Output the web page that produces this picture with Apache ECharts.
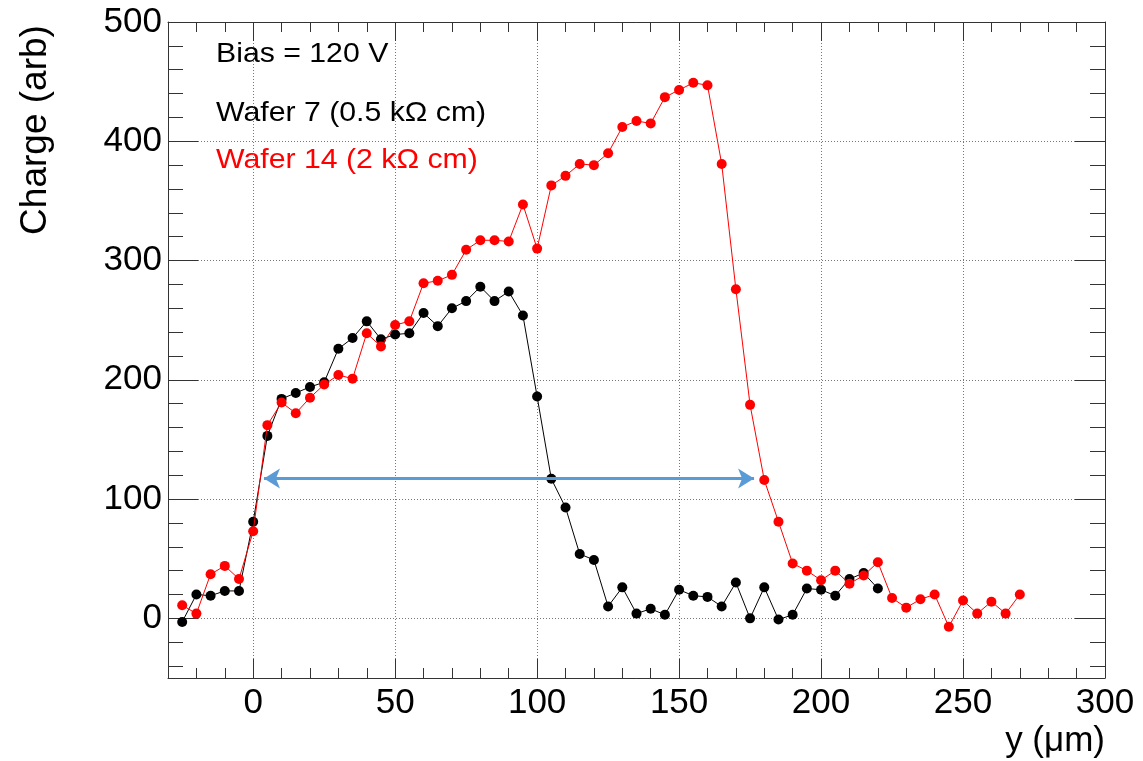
<!DOCTYPE html>
<html>
<head>
<meta charset="utf-8">
<script src="https://cdn.jsdelivr.net/npm/echarts@6/dist/echarts.min.js"></script>
<style>
html,body{margin:0;padding:0;background:#fff;}
#chart{width:1143px;height:761px;}
</style>
</head>
<body>
<div id="chart"></div>
<script>
// ---- data ----
const xBlack = [-25,-20,-15,-10,-5,0,5,10,15,20,25,30,35,40,45,50,55,60,65,70,75,80,85,90,95,100,105,110,115,120,125,130,135,140,145,150,155,160,165,170,175,180,185,190,195,200,205,210,215,220];
const yBlack = [-3,20,19,23,23,81,153,184,189,194,198,226,235,249,234,238,239,256,245,260,266,278,266,274,254,186,117,93,54,49,10,26,4,8,3,24,19,18,10,30,0,26,-1,3,25,24,19,33,38,25];
const xRed = [-25,-20,-15,-10,-5,0,5,10,15,20,25,30,35,40,45,50,55,60,65,70,75,80,85,90,95,100,105,110,115,120,125,130,135,140,145,150,155,160,165,170,175,180,185,190,195,200,205,210,215,220,225,230,235,240,245,250,255,260,265,270];
const yRed = [11,4,37,44,33,73,162,181,172,185,196,204,201,239,228,246,249,281,283,288,309,317,317,316,347,310,363,371,381,380,390,412,417,415,437,443,449,447,381,276,179,116,81,46,40,32,40,29,36,47,17,9,16,20,-7,15,4,14,4,20];
const arrowEnds = [[3.8, 117.3], [176.4, 117.3]];
const xRange = [-30, 300];
const yRange = [-50, 500];
const xStep = 50;
const yStep = 100;
const labels = ['Bias = 120 V', 'Wafer 7 (0.5 k\u03A9 cm)', 'Wafer 14 (2 k\u03A9 cm)'];
const xTitle = 'y (\u03BCm)';
const yTitle = 'Charge (arb)';

const pair = (xs, ys) => xs.map((x, i) => [x, ys[i]]);
const FONT = '"Liberation Sans", Arial, Helvetica, sans-serif';
const frameColor = '#333';
const gridLine = {show: true, lineStyle: {color: '#777', width: 1, type: [1, 2]}};

function xAx(pos, main) {
  return {
    type: 'value', position: pos, min: xRange[0], max: xRange[1],
    minInterval: xStep, maxInterval: xStep, splitNumber: 6,
    axisLine: {show: true, onZero: false, lineStyle: {color: frameColor, width: 1}},
    axisTick: {show: true, inside: true, length: 19, lineStyle: {color: frameColor}},
    minorTick: {show: true, splitNumber: 5, length: 10, lineStyle: {color: frameColor}},
    splitLine: main ? gridLine : {show: false},
    axisLabel: main ? {show: true, fontSize: 35, fontFamily: FONT, color: '#000', margin: 8,
      formatter: v => (v % xStep === 0 ? String(v) : '')} : {show: false}
  };
}
function yAx(pos, main) {
  return {
    type: 'value', position: pos, min: yRange[0], max: yRange[1],
    minInterval: yStep, maxInterval: yStep, splitNumber: 5,
    axisLine: {show: true, onZero: false, lineStyle: {color: frameColor, width: 1}},
    axisTick: {show: true, inside: true, length: 30, lineStyle: {color: frameColor}},
    minorTick: {show: true, splitNumber: 5, length: 15, lineStyle: {color: frameColor}},
    splitLine: main ? gridLine : {show: false},
    axisLabel: main ? {show: true, fontSize: 35, fontFamily: FONT, color: '#000', margin: 6,
      formatter: v => (v % yStep === 0 ? String(v) : '')} : {show: false}
  };
}

const chart = echarts.init(document.getElementById('chart'), null, {renderer: 'canvas'});
chart.setOption({
  animation: false,
  backgroundColor: '#fff',
  grid: {left: 168, right: 38, top: 22, bottom: 83, containLabel: false},
  xAxis: [xAx('bottom', true), xAx('top', false)],
  yAxis: [yAx('left', true), yAx('right', false)],
  series: [
    {
      type: 'line', xAxisIndex: 0, yAxisIndex: 0,
      data: pair(xBlack, yBlack),
      symbol: 'circle', symbolSize: 10,
      itemStyle: {color: '#000'},
      lineStyle: {color: '#000', width: 1},
      z: 3
    },
    {
      type: 'line', xAxisIndex: 0, yAxisIndex: 0,
      data: pair(xRed, yRed),
      symbol: 'circle', symbolSize: 10,
      itemStyle: {color: '#ff0000'},
      lineStyle: {color: '#ff0000', width: 1},
      z: 4,
      markLine: {
        silent: true, symbol: ['arrow', 'arrow'], symbolSize: [15, 16],
        label: {show: false},
        lineStyle: {color: '#5B9BD5', width: 3, type: 'solid'},
        emphasis: {disabled: true},
        data: [[{coord: arrowEnds[0]}, {coord: arrowEnds[1]}]]
      }
    }
  ],
  graphic: [
    {type: 'text', x: 216, y: 54, scaleX: 1.08, style: {text: labels[0], fontSize: 28, fontFamily: FONT, fill: '#000', verticalAlign: 'middle', align: 'left'}},
    {type: 'text', x: 216, y: 113, scaleX: 1.08, style: {text: labels[1], fontSize: 28, fontFamily: FONT, fill: '#000', verticalAlign: 'middle', align: 'left'}},
    {type: 'text', x: 216, y: 160, scaleX: 1.08, style: {text: labels[2], fontSize: 28, fontFamily: FONT, fill: '#ff0000', verticalAlign: 'middle', align: 'left'}},
    {type: 'text', x: 1105, y: 741, style: {text: xTitle, fontSize: 35, fontFamily: FONT, fill: '#000', verticalAlign: 'middle', align: 'right'}},
    {type: 'text', x: 36, y: 130, rotation: Math.PI / 2, style: {text: yTitle, fontSize: 37, fontFamily: FONT, fill: '#000', verticalAlign: 'middle', align: 'center'}}
  ]
});
</script>
</body>
</html>
